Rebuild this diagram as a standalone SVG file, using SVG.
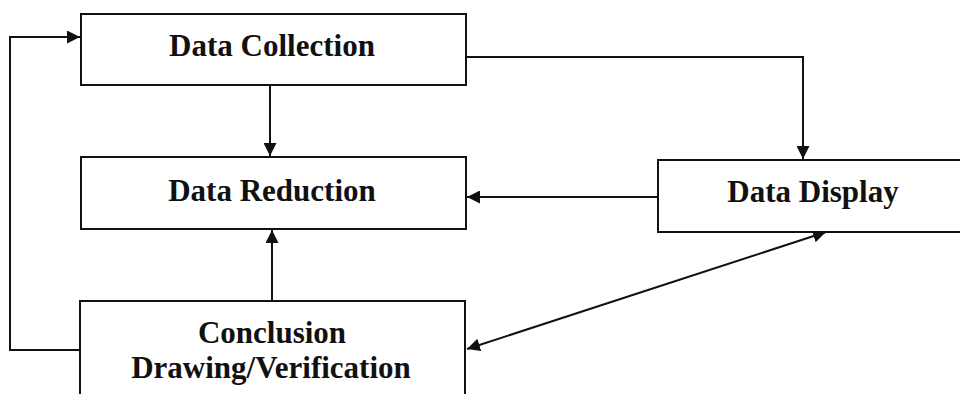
<svg xmlns="http://www.w3.org/2000/svg" width="960" height="394" viewBox="0 0 960 394">
<style>
.box{fill:#fff;stroke:#111;stroke-width:2}
.lbl{font-family:"Liberation Serif","Times New Roman",serif;font-weight:bold;font-size:31px;fill:#111;text-anchor:middle}
.con{fill:none;stroke:#111;stroke-width:2}
</style>
<defs>
<marker id="ah" viewBox="0 0 13 13" refX="13" refY="6.5" markerWidth="13" markerHeight="13" markerUnits="userSpaceOnUse" orient="auto-start-reverse">
<path d="M0,0 L13,6.5 L0,13 Z" fill="#111"/>
</marker>
</defs>
<rect width="960" height="394" fill="#fff"/>
<g id="connectors">
<path class="con" d="M80,350 H10 V37 H80" marker-end="url(#ah)"/>
<path class="con" d="M270,85 V156" marker-end="url(#ah)"/>
<path class="con" d="M466,57 H803 V159" marker-end="url(#ah)"/>
<path class="con" d="M658,197 H467" marker-end="url(#ah)"/>
<path class="con" d="M272,301 V230" marker-end="url(#ah)"/>
<path class="con" d="M467,349 L826,232" marker-start="url(#ah)" marker-end="url(#ah)"/>
</g>
<g id="data-collection">
<rect class="box" x="81" y="14" width="385" height="71"/>
<text class="lbl" x="272" y="56">Data Collection</text>
</g>
<g id="data-reduction">
<rect class="box" x="81" y="157" width="385" height="72"/>
<text class="lbl" x="272" y="201">Data Reduction</text>
</g>
<g id="data-display">
<rect class="box" x="658" y="160" width="312" height="72"/>
<text class="lbl" x="813" y="202">Data Display</text>
</g>
<g id="conclusion">
<rect class="box" x="80" y="301" width="385" height="100"/>
<text class="lbl" x="272" y="343">Conclusion</text>
<text class="lbl" x="271" y="378">Drawing/Verification</text>
</g>
</svg>
